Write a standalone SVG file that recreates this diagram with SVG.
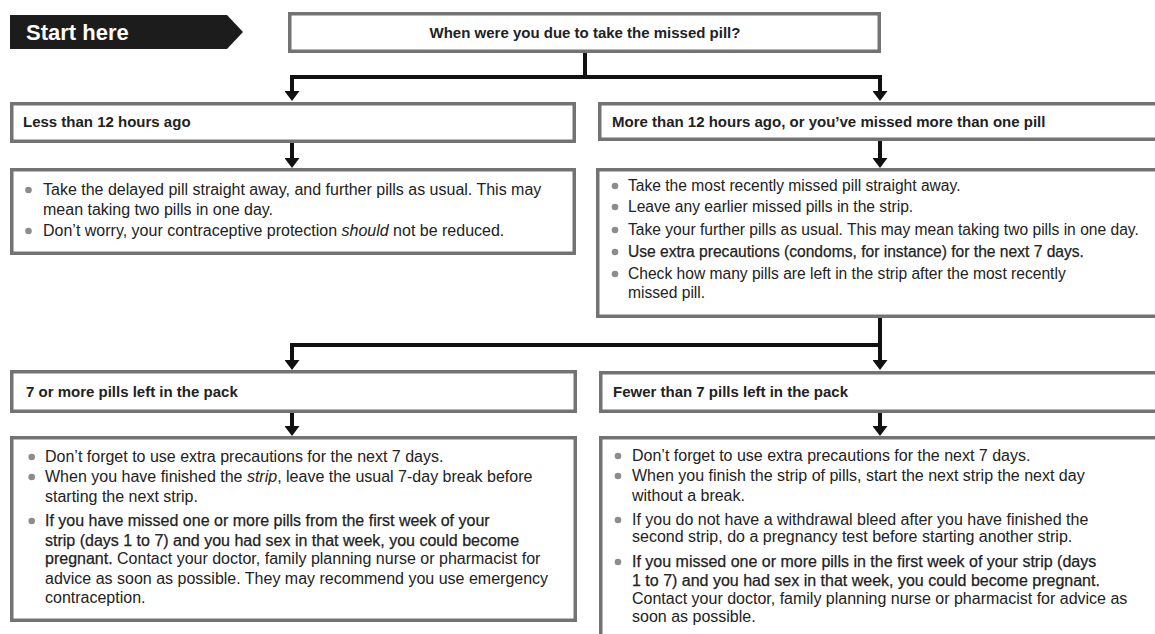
<svg xmlns="http://www.w3.org/2000/svg" width="1155" height="634" viewBox="0 0 1155 634">
<style>
.box{fill:#fff;stroke:#737373;stroke-width:3.5}
.hd{font-family:"Liberation Sans",Arial,sans-serif;font-weight:bold;font-size:15px;fill:#222}
.tx{font-family:"Liberation Sans",Arial,sans-serif;font-size:16px;fill:#222}
.sm{font-size:15.6px}
.md{stroke:#222;stroke-width:0.25}
.it{font-style:italic}
.bl{fill:#8c8c8c}
.ln{fill:none;stroke:#111;stroke-width:4;stroke-linejoin:miter}
</style>
<defs>
<marker id="ah" markerUnits="userSpaceOnUse" markerWidth="10" markerHeight="15" refX="0" refY="7.5" orient="auto">
<path d="M0,0 L10,7.5 L0,15 z" fill="#111"/>
</marker>
</defs>

<g id="start">
<polygon points="10,15 227,15 243,32 227,49 10,49" fill="#1c1c1c"/>
<text x="26" y="40" font-family="Liberation Sans, Arial, sans-serif" font-weight="bold" font-size="22" fill="#fff">Start here</text>
</g>

<g id="question">
<rect class="box" x="289.75" y="13.75" width="589.5" height="37.5"/>
<text class="hd" x="585" y="38" text-anchor="middle">When were you due to take the missed pill?</text>
</g>

<g id="less12">
<rect class="box" x="11.75" y="103.75" width="562.5" height="37.5"/>
<text class="hd" x="23" y="127">Less than 12 hours ago</text>
</g>

<g id="more12">
<rect class="box" x="599.75" y="103.75" width="562" height="35.5"/>
<text class="hd" x="612" y="127">More than 12 hours ago, or you’ve missed more than one pill</text>
</g>

<g id="less12-action">
<rect class="box" x="11.75" y="169.75" width="562.5" height="83.5"/>
<circle class="bl" cx="28.5" cy="190" r="3.3"/>
<text class="tx" x="43" y="195">Take the delayed pill straight away, and further pills as usual. This may</text>
<text class="tx" x="43" y="215">mean taking two pills in one day.</text>
<circle class="bl" cx="28.5" cy="231" r="3.3"/>
<text class="tx" x="43" y="236">Don’t worry, your contraceptive protection <tspan class="it">should</tspan> not be reduced.</text>
</g>

<g id="more12-action">
<rect class="box" x="597.75" y="169.75" width="564" height="146.5"/>
<circle class="bl" cx="615" cy="186" r="3.3"/>
<text class="tx sm" x="628" y="191">Take the most recently missed pill straight away.</text>
<circle class="bl" cx="615" cy="207" r="3.3"/>
<text class="tx sm" x="628" y="212">Leave any earlier missed pills in the strip.</text>
<circle class="bl" cx="615" cy="230" r="3.3"/>
<text class="tx sm" x="628" y="235">Take your further pills as usual. This may mean taking two pills in one day.</text>
<circle class="bl" cx="615" cy="252" r="3.3"/>
<text class="tx sm md" x="628" y="257">Use extra precautions (condoms, for instance) for the next 7 days.</text>
<circle class="bl" cx="615" cy="274" r="3.3"/>
<text class="tx sm" x="628" y="279">Check how many pills are left in the strip after the most recently</text>
<text class="tx sm" x="628" y="298">missed pill.</text>
</g>

<g id="seven-or-more">
<rect class="box" x="11.75" y="371.75" width="563.5" height="39.5"/>
<text class="hd" x="26" y="397">7 or more pills left in the pack</text>
</g>

<g id="fewer-than-seven">
<rect class="box" x="600.75" y="372.75" width="562" height="38.5"/>
<text class="hd" x="613" y="397">Fewer than 7 pills left in the pack</text>
</g>

<g id="seven-or-more-action">
<rect class="box" x="11.75" y="437.75" width="563.5" height="182.5"/>
<circle class="bl" cx="31.7" cy="457" r="3.3"/>
<text class="tx" x="45" y="462">Don’t forget to use extra precautions for the next 7 days.</text>
<circle class="bl" cx="31.7" cy="477" r="3.3"/>
<text class="tx" x="45" y="482">When you have finished the <tspan class="it">strip</tspan>, leave the usual 7-day break before</text>
<text class="tx" x="45" y="502">starting the next strip.</text>
<circle class="bl" cx="31.7" cy="521" r="3.3"/>
<text class="tx md" x="45" y="526">If you have missed one or more pills from the first week of your</text>
<text class="tx md" x="45" y="546">strip (days 1 to 7) and you had sex in that week, you could become</text>
<text class="tx" x="45" y="564"><tspan class="md">pregnant.</tspan> Contact your doctor, family planning nurse or pharmacist for</text>
<text class="tx" x="45" y="584">advice as soon as possible. They may recommend you use emergency</text>
<text class="tx" x="45" y="603">contraception.</text>
</g>

<g id="fewer-than-seven-action">
<rect class="box" x="600.75" y="437.75" width="562" height="220"/>
<circle class="bl" cx="618" cy="456" r="3.3"/>
<text class="tx" x="632" y="461">Don’t forget to use extra precautions for the next 7 days.</text>
<circle class="bl" cx="618" cy="476" r="3.3"/>
<text class="tx" x="632" y="481">When you finish the strip of pills, start the next strip the next day</text>
<text class="tx" x="632" y="501">without a break.</text>
<circle class="bl" cx="618" cy="520" r="3.3"/>
<text class="tx" x="632" y="525">If you do not have a withdrawal bleed after you have finished the</text>
<text class="tx" x="632" y="542">second strip, do a pregnancy test before starting another strip.</text>
<circle class="bl" cx="618" cy="562" r="3.3"/>
<text class="tx md" x="632" y="567">If you missed one or more pills in the first week of your strip (days</text>
<text class="tx md" x="632" y="586">1 to 7) and you had sex in that week, you could become pregnant.</text>
<text class="tx" x="632" y="604">Contact your doctor, family planning nurse or pharmacist for advice as</text>
<text class="tx" x="632" y="622">soon as possible.</text>
</g>

<g id="connectors">
<path class="ln" d="M585,53 V77"/>
<path class="ln" d="M585,77 H292 V91" marker-end="url(#ah)"/>
<path class="ln" d="M585,77 H880 V91" marker-end="url(#ah)"/>
<path class="ln" d="M292,143 V158" marker-end="url(#ah)"/>
<path class="ln" d="M880,141 V158" marker-end="url(#ah)"/>
<path class="ln" d="M880,318 V360" marker-end="url(#ah)"/>
<path class="ln" d="M880,345 H292 V360" marker-end="url(#ah)"/>
<path class="ln" d="M292,413 V426" marker-end="url(#ah)"/>
<path class="ln" d="M880,413 V426" marker-end="url(#ah)"/>
</g>
</svg>
